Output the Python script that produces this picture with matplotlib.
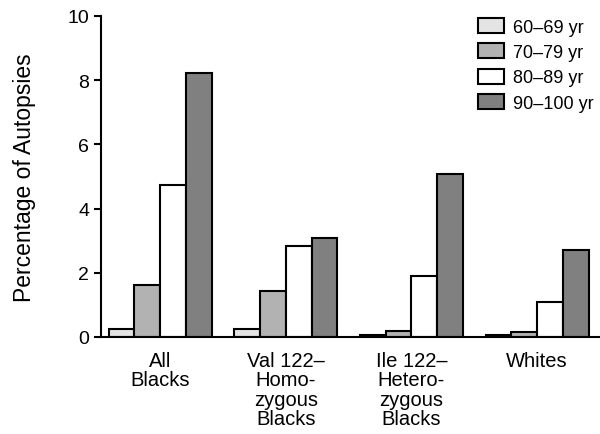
import numpy as np
import matplotlib.pyplot as plt

plt.rcParams['font.family'] = ['Liberation Sans', 'DejaVu Sans']

groups = ['All\nBlacks', 'Val 122\u2013\nHomo-\nzygous\nBlacks',
          'Ile 122\u2013\nHetero-\nzygous\nBlacks', 'Whites']
age_labels = ['60\u201369 yr', '70\u201379 yr', '80\u201389 yr', '90\u2013100 yr']
age_60_69 = [0.26, 0.24, 0.07, 0.07]
age_70_79 = [1.62, 1.43, 0.18, 0.17]
age_80_89 = [4.72, 2.83, 1.89, 1.08]
age_90_100 = [8.22, 3.09, 5.07, 2.70]
colors = ['#e4e4e4', '#b2b2b2', '#ffffff', '#808080']

series = [age_60_69, age_70_79, age_80_89, age_90_100]

fig = plt.figure(figsize=(6, 4.35), dpi=100)
ax = fig.add_axes([0.1683, 0.223, 0.8317, 0.738])

x = np.arange(len(groups))
width = 0.205
for i, vals in enumerate(series):
    ax.bar(x + (i - 1.5) * width, vals, width, color=colors[i],
           edgecolor='black', linewidth=1.5, label=age_labels[i])

ax.set_xlim(-0.47, 3.5)
ax.set_ylim(0, 10)
ax.set_yticks([0, 2, 4, 6, 8, 10])
ax.set_xticks(x)
ax.set_xticklabels(groups, fontsize=14.5, linespacing=1.03)
ax.tick_params(axis='x', length=0, pad=10)
ax.tick_params(axis='y', labelsize=14, length=5, width=1.5, pad=3.5)
ax.set_ylabel('Percentage of Autopsies', fontsize=16.5)
ax.yaxis.set_label_coords(-0.13, 0.5)

for side in ['top', 'right']:
    ax.spines[side].set_visible(False)
for side in ['left', 'bottom']:
    ax.spines[side].set_linewidth(1.5)

leg = ax.legend(loc='upper left', bbox_to_anchor=(478 / 600, 1 - 19 / 435),
                bbox_transform=fig.transFigure, frameon=False,
                fontsize=13, handlelength=1.45, handleheight=0.9,
                labelspacing=0.42, handletextpad=0.5, borderaxespad=0,
                borderpad=0)
for patch in leg.get_patches():
    patch.set_linewidth(1.5)

fig.savefig('out.png', dpi=100)
